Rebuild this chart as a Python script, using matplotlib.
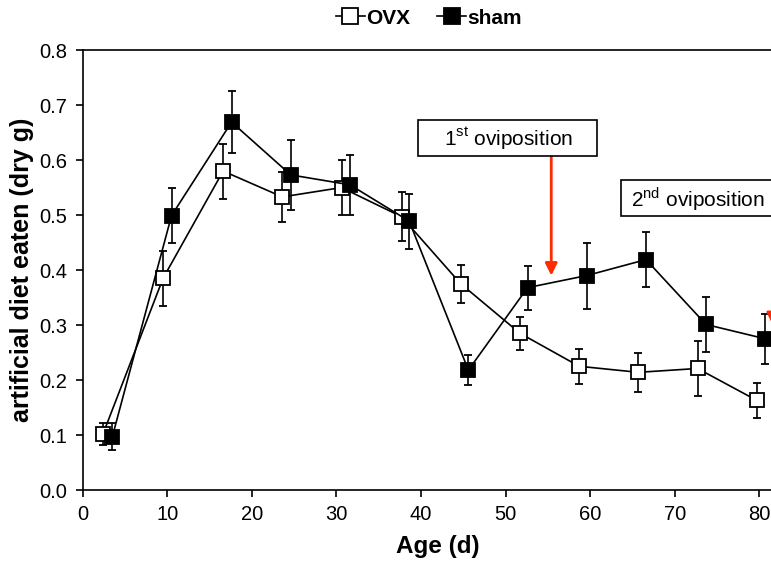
import numpy as np
import matplotlib.pyplot as plt
from matplotlib.lines import Line2D
from matplotlib.patches import Rectangle

plt.rcParams['font.family'] = ['Liberation Sans', 'DejaVu Sans']
plt.rcParams['mathtext.fontset'] = 'custom'
plt.rcParams['mathtext.rm'] = 'Liberation Sans'

# --- data ---
ovx_age = [2.4, 9.5, 16.6, 23.6, 30.6, 37.7, 44.7, 51.7, 58.7, 65.7, 72.7, 79.7]
ovx_mean = [0.102, 0.385, 0.580, 0.533, 0.550, 0.497, 0.375, 0.285, 0.225, 0.214, 0.221, 0.163]
ovx_err = [0.020, 0.050, 0.050, 0.045, 0.050, 0.045, 0.035, 0.030, 0.032, 0.036, 0.050, 0.032]

sham_age = [3.5, 10.5, 17.6, 24.6, 31.6, 38.6, 45.6, 52.6, 59.6, 66.6, 73.7, 80.7]
sham_mean = [0.097, 0.499, 0.669, 0.573, 0.555, 0.489, 0.218, 0.368, 0.390, 0.419, 0.301, 0.275]
sham_err = [0.025, 0.050, 0.057, 0.063, 0.055, 0.050, 0.027, 0.040, 0.060, 0.050, 0.050, 0.045]

# --- figure ---
fig = plt.figure(figsize=(7.71, 5.64), dpi=100)
# the original is cropped on the right, so the axes run past the figure edge
ax = fig.add_axes([0.1073, 0.1312, 0.9214, 0.780])

ax.errorbar(ovx_age, ovx_mean, yerr=ovx_err, color='black', lw=1.2,
            marker='s', ms=10, mfc='white', mec='black', mew=1.3,
            ecolor='black', elinewidth=1.2, capsize=3, capthick=1.2, zorder=3)
ax.errorbar(sham_age, sham_mean, yerr=sham_err, color='black', lw=1.2,
            marker='s', ms=10, mfc='black', mec='black', mew=1.3,
            ecolor='black', elinewidth=1.2, capsize=3, capthick=1.2, zorder=4)

ax.set_xlim(0, 84)
ax.set_ylim(0, 0.8)
ax.set_xticks(np.arange(0, 90, 10))
ax.set_yticks(np.arange(0, 0.81, 0.1))
ax.set_yticklabels([f'{v:.1f}' for v in np.arange(0, 0.81, 0.1)])
ax.tick_params(labelsize=14.5, direction='out', length=5, width=1.2, pad=6)
for s in ax.spines.values():
    s.set_linewidth(1.2)

ax.set_xlabel('Age (d)', fontsize=17.5, fontweight='bold', labelpad=8)
ax.set_ylabel('artificial diet eaten (dry g)', fontsize=18, fontweight='bold', labelpad=4)

# --- oviposition annotations ---
red = '#ff2a00'
ax.add_patch(Rectangle((39.6, 0.607), 21.2, 0.066, fc='white', ec='black', lw=1.2, zorder=6))
ax.text(50.3, 0.639, r'1$^{\rm st}$ oviposition', fontsize=15, ha='center', va='center', zorder=7)
ax.annotate('', xy=(55.4, 0.39), xytext=(55.4, 0.607),
            arrowprops=dict(arrowstyle='-|>', color=red, lw=2, mutation_scale=18,
                            shrinkA=0, shrinkB=0), zorder=5)

ax.add_patch(Rectangle((63.7, 0.498), 25, 0.066, fc='white', ec='black', lw=1.2, zorder=6))
ax.text(72.8, 0.530, r'2$^{\rm nd}$ oviposition', fontsize=15, ha='center', va='center', zorder=7)
ax.annotate('', xy=(81.6, 0.30), xytext=(81.6, 0.498),
            arrowprops=dict(arrowstyle='-|>', color=red, lw=2, mutation_scale=18,
                            shrinkA=0, shrinkB=0), zorder=5)

# --- legend on top ---
handles = [Line2D([], [], color='black', lw=1.2, marker='s', ms=11, mfc='white', mec='black', mew=1.3),
           Line2D([], [], color='black', lw=1.2, marker='s', ms=11, mfc='black', mec='black', mew=1.3)]
fig.legend(handles, ['OVX', 'sham'], loc='center', bbox_to_anchor=(0.556, 0.968), ncol=2,
           frameon=False, handlelength=1.4, handletextpad=0.05, columnspacing=1.3,
           prop={'weight': 'bold', 'size': 15})

plt.savefig('out.png', dpi=100)
plt.close()
